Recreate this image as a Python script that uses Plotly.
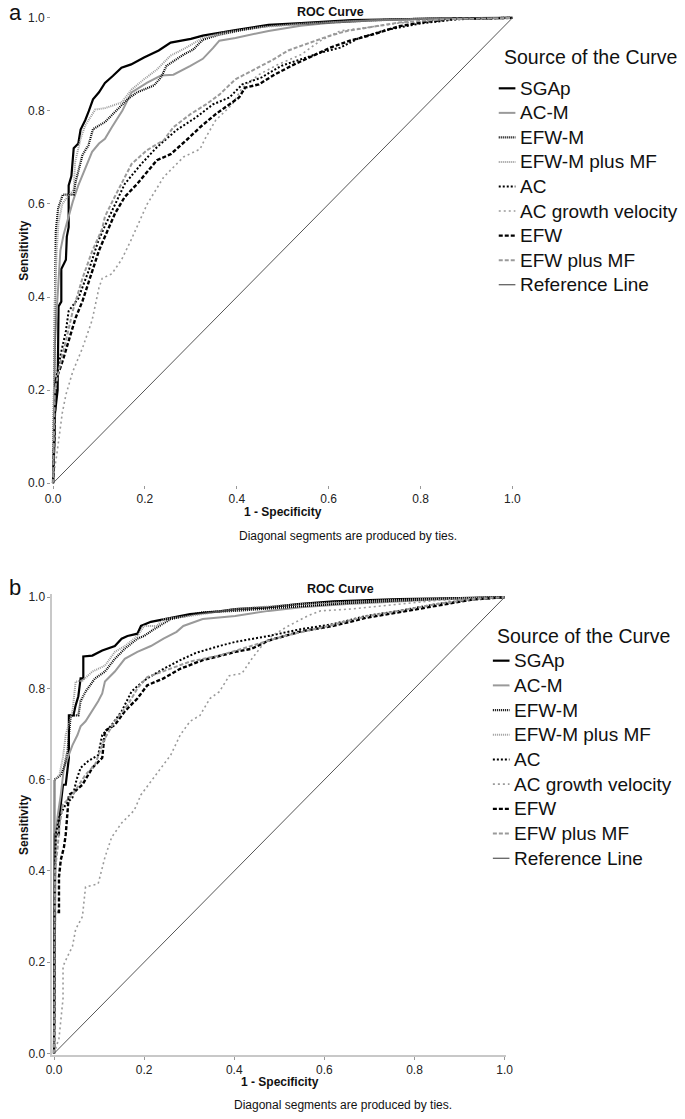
import plotly.graph_objects as go

W, H = 685, 1119

# ---------------- data ----------------
tick_vals = [0.0, 0.2, 0.4, 0.6, 0.8, 1.0]
tick_labels = ["0.0", "0.2", "0.4", "0.6", "0.8", "1.0"]

series_names = ["SGAp", "AC-M", "EFW-M", "EFW-M plus MF", "AC",
                "AC growth velocity", "EFW", "EFW plus MF", "Reference Line"]

# panel a  (x = 1 - specificity, y = sensitivity)
a_sgap = [(0, 0), (0.003, 0.09), (0.003, 0.14), (0.01, 0.2), (0.012, 0.38), (0.018, 0.39), (0.018, 0.46),
          (0.028, 0.48), (0.03, 0.53), (0.034, 0.55), (0.034, 0.64), (0.04, 0.66), (0.045, 0.72), (0.055, 0.73),
          (0.06, 0.76), (0.07, 0.78), (0.078, 0.8), (0.087, 0.825), (0.1, 0.84), (0.113, 0.86), (0.13, 0.875),
          (0.149, 0.893), (0.17, 0.9), (0.198, 0.915), (0.23, 0.93), (0.256, 0.947), (0.3, 0.955), (0.326, 0.962),
          (0.397, 0.974), (0.469, 0.985), (0.54, 0.989), (0.65, 0.995), (0.75, 0.997), (0.85, 0.999), (1, 1)]
a_acm = [(0, 0), (0.002, 0.15), (0.004, 0.3), (0.008, 0.37), (0.012, 0.45), (0.016, 0.5), (0.023, 0.534),
         (0.035, 0.58), (0.043, 0.605), (0.055, 0.64), (0.064, 0.662), (0.075, 0.69), (0.085, 0.712), (0.1, 0.73),
         (0.113, 0.74), (0.128, 0.765), (0.151, 0.801), (0.171, 0.84), (0.205, 0.861), (0.235, 0.876),
         (0.262, 0.878), (0.299, 0.897), (0.326, 0.912), (0.348, 0.935), (0.362, 0.951), (0.397, 0.957),
         (0.469, 0.972), (0.539, 0.983), (0.61, 0.99), (0.7, 0.995), (0.8, 0.998), (1, 1)]
a_efwm = [(0, 0), (0.002, 0.2), (0.004, 0.35), (0.006, 0.48), (0.006, 0.541), (0.011, 0.59), (0.021, 0.62),
          (0.045, 0.62), (0.049, 0.647), (0.064, 0.705), (0.077, 0.726), (0.087, 0.761), (0.113, 0.776),
          (0.134, 0.797), (0.162, 0.825), (0.183, 0.84), (0.22, 0.855), (0.235, 0.872), (0.247, 0.897),
          (0.284, 0.921), (0.305, 0.932), (0.326, 0.953), (0.362, 0.964), (0.412, 0.974), (0.469, 0.983),
          (0.539, 0.987), (0.65, 0.993), (0.75, 0.997), (0.85, 0.999), (1, 1)]
a_efwm_mf = [(0, 0), (0.002, 0.2), (0.004, 0.4), (0.008, 0.5), (0.012, 0.56), (0.02, 0.6), (0.035, 0.62),
             (0.045, 0.63), (0.048, 0.69), (0.06, 0.74), (0.07, 0.769), (0.092, 0.803), (0.113, 0.806),
             (0.149, 0.818), (0.171, 0.846), (0.198, 0.868), (0.226, 0.889), (0.256, 0.919), (0.29, 0.936),
             (0.326, 0.957), (0.37, 0.968), (0.45, 0.98), (0.55, 0.988), (0.65, 0.993), (0.75, 0.996),
             (0.85, 0.999), (1, 1)]
a_ac = [(0, 0), (0.002, 0.1), (0.004, 0.2), (0.006, 0.22), (0.017, 0.278), (0.028, 0.327), (0.034, 0.37),
        (0.055, 0.397), (0.077, 0.455), (0.098, 0.519), (0.113, 0.553), (0.135, 0.6), (0.156, 0.643),
        (0.192, 0.686), (0.226, 0.722), (0.269, 0.759), (0.311, 0.786), (0.348, 0.814), (0.384, 0.829),
        (0.412, 0.857), (0.454, 0.872), (0.497, 0.897), (0.539, 0.91), (0.582, 0.925), (0.625, 0.936),
        (0.667, 0.957), (0.725, 0.974), (0.8, 0.988), (0.88, 0.997), (1, 1)]
a_ac_gv = [(0, 0), (0.003, 0.03), (0.008, 0.06), (0.013, 0.1), (0.02, 0.15), (0.028, 0.19), (0.043, 0.24),
           (0.064, 0.29), (0.085, 0.35), (0.1, 0.42), (0.107, 0.44), (0.128, 0.45), (0.149, 0.48), (0.171, 0.525),
           (0.19, 0.565), (0.205, 0.6), (0.241, 0.658), (0.284, 0.701), (0.32, 0.718), (0.333, 0.744),
           (0.354, 0.78), (0.39, 0.814), (0.412, 0.85), (0.448, 0.878), (0.49, 0.9), (0.54, 0.921),
           (0.582, 0.951), (0.625, 0.972), (0.682, 0.979), (0.753, 0.989), (0.85, 0.997), (1, 1)]
a_efw = [(0, 0), (0.002, 0.1), (0.004, 0.2), (0.006, 0.22), (0.021, 0.263), (0.034, 0.306), (0.049, 0.355),
         (0.064, 0.391), (0.085, 0.455), (0.1, 0.5), (0.113, 0.53), (0.135, 0.58), (0.156, 0.615), (0.183, 0.643),
         (0.226, 0.694), (0.256, 0.707), (0.29, 0.737), (0.32, 0.765), (0.354, 0.793), (0.384, 0.814),
         (0.405, 0.829), (0.418, 0.85), (0.448, 0.857), (0.482, 0.878), (0.525, 0.9), (0.567, 0.919),
         (0.603, 0.936), (0.646, 0.951), (0.695, 0.964), (0.753, 0.982), (0.8, 0.99), (0.87, 0.998), (1, 1)]
a_efw_mf = [(0, 0), (0.002, 0.1), (0.004, 0.2), (0.01, 0.23), (0.017, 0.263), (0.028, 0.306), (0.043, 0.37),
            (0.064, 0.44), (0.085, 0.498), (0.107, 0.547), (0.113, 0.573), (0.134, 0.615), (0.171, 0.686),
            (0.205, 0.716), (0.241, 0.737), (0.262, 0.765), (0.299, 0.793), (0.333, 0.814), (0.362, 0.835),
            (0.397, 0.868), (0.433, 0.887), (0.475, 0.908), (0.512, 0.93), (0.554, 0.945), (0.597, 0.96),
            (0.64, 0.972), (0.7, 0.982), (0.753, 0.99), (0.85, 0.997), (1, 1)]

# panel b
b_sgap = [(0, 0), (0.001, 0.3), (0.002, 0.48), (0.011, 0.48), (0.011, 0.5), (0.015, 0.546), (0.02, 0.589),
          (0.026, 0.589), (0.03, 0.62), (0.033, 0.648), (0.033, 0.741), (0.043, 0.741), (0.048, 0.763),
          (0.054, 0.783), (0.059, 0.822), (0.065, 0.822), (0.065, 0.87), (0.085, 0.872), (0.107, 0.883),
          (0.135, 0.893), (0.15, 0.909), (0.163, 0.915), (0.185, 0.92), (0.193, 0.937), (0.215, 0.946),
          (0.259, 0.955), (0.302, 0.963), (0.367, 0.969), (0.402, 0.974), (0.476, 0.978), (0.541, 0.985),
          (0.62, 0.991), (0.765, 0.996), (0.9, 0.998), (1, 1)]
b_acm = [(0, 0), (0.002, 0.3), (0.004, 0.48), (0.008, 0.52), (0.015, 0.567), (0.022, 0.626), (0.033, 0.654),
         (0.041, 0.676), (0.052, 0.698), (0.059, 0.717), (0.07, 0.728), (0.085, 0.75), (0.098, 0.772),
         (0.107, 0.789), (0.113, 0.815), (0.135, 0.837), (0.157, 0.865), (0.185, 0.88), (0.215, 0.893),
         (0.243, 0.909), (0.272, 0.924), (0.287, 0.937), (0.33, 0.952), (0.402, 0.959), (0.476, 0.97),
         (0.548, 0.978), (0.65, 0.985), (0.75, 0.99), (0.85, 0.995), (1, 1)]
b_efwm = [(0, 0), (0, 0.3), (0.001, 0.6), (0.015, 0.61), (0.022, 0.626), (0.03, 0.663), (0.037, 0.741),
          (0.054, 0.741), (0.059, 0.772), (0.07, 0.793), (0.091, 0.822), (0.113, 0.837), (0.135, 0.865),
          (0.157, 0.887), (0.185, 0.909), (0.2, 0.915), (0.222, 0.93), (0.259, 0.952), (0.33, 0.967),
          (0.402, 0.97), (0.548, 0.98), (0.65, 0.987), (0.75, 0.992), (0.85, 0.996), (1, 1)]
b_efwm_mf = [(0, 0), (0.001, 0.3), (0.002, 0.6), (0.012, 0.61), (0.02, 0.65), (0.026, 0.698), (0.033, 0.72),
             (0.041, 0.75), (0.048, 0.815), (0.063, 0.817), (0.085, 0.837), (0.113, 0.85), (0.135, 0.88),
             (0.157, 0.893), (0.185, 0.915), (0.2, 0.937), (0.228, 0.937), (0.243, 0.952), (0.302, 0.959),
             (0.402, 0.974), (0.548, 0.985), (0.65, 0.99), (0.75, 0.994), (0.85, 0.997), (1, 1)]
b_ac = [(0, 0), (0, 0.2), (0.002, 0.38), (0.004, 0.45), (0.004, 0.48), (0.011, 0.517), (0.026, 0.546),
        (0.041, 0.561), (0.05, 0.6), (0.059, 0.626), (0.076, 0.641), (0.098, 0.654), (0.107, 0.698),
        (0.128, 0.72), (0.15, 0.75), (0.172, 0.793), (0.185, 0.805), (0.207, 0.822), (0.243, 0.843),
        (0.28, 0.862), (0.315, 0.878), (0.367, 0.893), (0.402, 0.902), (0.476, 0.915), (0.548, 0.93),
        (0.62, 0.941), (0.693, 0.959), (0.765, 0.97), (0.85, 0.985), (0.93, 0.995), (1, 1)]
b_ac_gv = [(0, 0), (0.011, 0.033), (0.02, 0.12), (0.02, 0.191), (0.03, 0.213), (0.041, 0.235), (0.048, 0.272),
           (0.063, 0.3), (0.07, 0.365), (0.098, 0.372), (0.113, 0.43), (0.128, 0.474), (0.15, 0.505),
           (0.178, 0.533), (0.193, 0.567), (0.222, 0.604), (0.243, 0.633), (0.259, 0.654), (0.28, 0.698),
           (0.302, 0.728), (0.324, 0.741), (0.346, 0.778), (0.367, 0.793), (0.389, 0.828), (0.417, 0.833),
           (0.439, 0.865), (0.461, 0.893), (0.483, 0.915), (0.52, 0.937), (0.563, 0.959), (0.591, 0.97),
           (0.657, 0.974), (0.765, 0.985), (0.85, 0.993), (1, 1)]
b_efw = [(0, 0), (0.001, 0.2), (0.002, 0.31), (0.011, 0.31), (0.011, 0.387), (0.015, 0.424), (0.022, 0.452),
         (0.026, 0.48), (0.03, 0.53), (0.033, 0.567), (0.048, 0.576), (0.063, 0.589), (0.085, 0.626),
         (0.107, 0.648), (0.113, 0.707), (0.135, 0.72), (0.157, 0.75), (0.185, 0.778), (0.207, 0.807),
         (0.243, 0.822), (0.28, 0.843), (0.33, 0.862), (0.402, 0.88), (0.439, 0.887), (0.476, 0.905),
         (0.511, 0.915), (0.548, 0.925), (0.62, 0.937), (0.693, 0.955), (0.765, 0.967), (0.85, 0.982),
         (0.93, 0.995), (1, 1)]
b_efw_mf = [(0, 0), (0.001, 0.2), (0.002, 0.4), (0.008, 0.45), (0.012, 0.5), (0.02, 0.546), (0.041, 0.567),
            (0.07, 0.611), (0.091, 0.633), (0.113, 0.691), (0.135, 0.728), (0.163, 0.763), (0.185, 0.8),
            (0.207, 0.825), (0.259, 0.843), (0.302, 0.859), (0.367, 0.872), (0.439, 0.893), (0.511, 0.915),
            (0.6, 0.935), (0.693, 0.958), (0.765, 0.97), (0.85, 0.985), (0.93, 0.996), (1, 1)]

ref_line = [(0, 0), (1, 1)]

panel_a = [a_sgap, a_acm, a_efwm, a_efwm_mf, a_ac, a_ac_gv, a_efw, a_efw_mf, ref_line]
panel_b = [b_sgap, b_acm, b_efwm, b_efwm_mf, b_ac, b_ac_gv, b_efw, b_efw_mf, ref_line]

# ---------------- styles ----------------
BLACK, GREY, DARK = "#000000", "#9a9a9a", "#555555"
styles = [
    dict(color=BLACK, width=2.2, dash="solid"),
    dict(color=GREY, width=2.0, dash="solid"),
    dict(color=BLACK, width=2.2, dash="1px,1px"),
    dict(color=GREY, width=2.0, dash="1px,1px"),
    dict(color=BLACK, width=2.0, dash="2px,2px"),
    dict(color=GREY, width=1.6, dash="2px,3px"),
    dict(color=BLACK, width=2.4, dash="4px,2px"),
    dict(color=GREY, width=2.0, dash="4px,2px"),
    dict(color=DARK, width=1.0, dash="solid"),
]
FONT = "Arial, Liberation Sans, sans-serif"

def PX(x):
    return x / W

def PY(y):
    return 1 - y / H

# pixel frames: (x of 0, x of 1, y of 0, y of 1)
frames = {"a": (47, 516, 483, 14), "b": (48, 508, 1058, 598)}
XR = (-0.004, 1.004)
YR = (-0.004, 1.006)

fig = go.Figure()

for panel, data, xa, ya in (("a", panel_a, "x", "y"), ("b", panel_b, "x2", "y2")):
    for name, pts, st in zip(series_names, data, styles):
        fig.add_trace(go.Scatter(
            x=[p[0] for p in pts], y=[p[1] for p in pts], mode="lines", name=name,
            line=dict(color=st["color"], width=st["width"], dash=st["dash"]),
            xaxis=xa, yaxis=ya, showlegend=False, hoverinfo="skip"))

def axis_common(show_line):
    return dict(tickmode="array", tickvals=tick_vals, ticktext=tick_labels, ticks="outside", ticklen=3,
                tickwidth=1, tickcolor="#999999", tickfont=dict(family=FONT, size=12, color="#222222"),
                showgrid=False, zeroline=False, showline=show_line, linecolor="#c8c8c8", linewidth=1.5,
                fixedrange=True)

def xdomain(fr):
    x0, x1 = fr[0], fr[1]
    return [PX(x0 + XR[0] * (x1 - x0)), PX(x0 + XR[1] * (x1 - x0))]

def ydomain(fr):
    y0, y1 = fr[2], fr[3]
    return [PY(y0 - YR[0] * (y0 - y1)), PY(y0 - YR[1] * (y0 - y1))]

fa, fb = frames["a"], frames["b"]
fig.update_layout(
    width=W, height=H, margin=dict(l=0, r=0, t=0, b=0, pad=0),
    paper_bgcolor="white", plot_bgcolor="white", showlegend=False,
    font=dict(family=FONT, color="#111111"),
    xaxis=dict(domain=xdomain(fa), range=list(XR), anchor="y", **axis_common(False)),
    yaxis=dict(domain=ydomain(fa), range=list(YR), anchor="x", **axis_common(False)),
    xaxis2=dict(domain=xdomain(fb), range=list(XR), anchor="y2", **axis_common(True)),
    yaxis2=dict(domain=ydomain(fb), range=list(YR), anchor="x2", **axis_common(True)),
)

ann = []
shapes = []

def text(x, y, s, size, bold=False, xanchor="center", angle=0, color="#111111"):
    ann.append(dict(x=PX(x), y=PY(y), xref="paper", yref="paper", text=("<b>%s</b>" % s) if bold else s,
                    showarrow=False, xanchor=xanchor, yanchor="middle", textangle=angle,
                    font=dict(family=FONT, size=size, color=color)))

# panel letters, titles, axis titles, footnotes
text(0, 9, "a", 22, xanchor="left")
text(0, 588, "b", 22, xanchor="left")
text(330, 8, "ROC Curve", 12.5, bold=True)
text(340, 590, "ROC Curve", 12.5, bold=True)
text(282, 512, "1 - Specificity", 12, bold=True)
text(279, 1087, "1 - Specificity", 12, bold=True)
text(17, 249, "Sensitivity", 12, bold=True, angle=-90)
text(18, 828, "Sensitivity", 12, bold=True, angle=-90)
text(235, 536, "Diagonal segments are produced by ties.", 12, xanchor="left")
text(230, 1110, "Diagonal segments are produced by ties.", 12, xanchor="left")

# legends (one per panel)
legend_layout = {"a": dict(title=(505, 53), line=(502, 519), text=522, first=85, step=24.75),
                 "b": dict(title=(498, 637), line=(496, 513), text=516, first=662, step=24.9)}
for key, lg in legend_layout.items():
    text(lg["title"][0], lg["title"][1], "Source of the Curve", 19.5, xanchor="left")
    for i, (name, st) in enumerate(zip(series_names, styles)):
        yy = lg["first"] + i * lg["step"]
        shapes.append(dict(type="line", xref="paper", yref="paper",
                           x0=PX(lg["line"][0]), x1=PX(lg["line"][1]), y0=PY(yy), y1=PY(yy),
                           line=dict(color=st["color"], width=max(st["width"], 1.2), dash=st["dash"])))
        text(lg["text"], yy, name, 19, xanchor="left")

fig.update_layout(annotations=ann, shapes=shapes)
fig.write_html("out.html", config={"displayModeBar": False},
               post_script="document.body.style.margin='0';document.body.style.padding='0';"
                           "document.documentElement.style.overflow='hidden';")
